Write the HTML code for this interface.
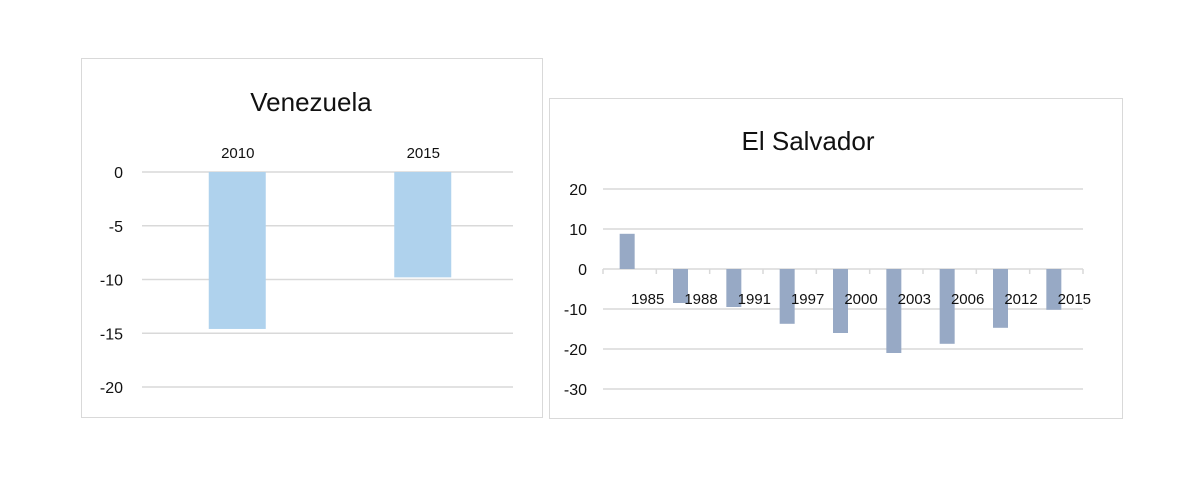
<!DOCTYPE html>
<html><head><meta charset="utf-8"><style>
body{margin:0;background:#fff;width:1200px;height:488px;overflow:hidden;font-family:"Liberation Sans",sans-serif}
svg text{font-family:"Liberation Sans",sans-serif;fill:#111}
</style></head><body>
<svg width="1200" height="488" viewBox="0 0 1200 488">
<rect x="81.5" y="58.5" width="461" height="359" fill="#fff" stroke="#d9d9d9"/>
<text x="311" y="111" font-size="26" text-anchor="middle">Venezuela</text>
<g id="v"></g>
<rect x="549.5" y="98.5" width="573" height="320" fill="#fff" stroke="#d9d9d9"/>
<text x="808" y="150" font-size="26" text-anchor="middle">El Salvador</text>
<g id="s"></g>
</svg>
<script>
const vCats=["2010","2015"];
const vVals=[-14.6,-9.8];
const vTicks=[0,-5,-10,-15,-20];
const sCats=["1985","1988","1991","1997","2000","2003","2006","2012","2015"];
const sVals=[8.8,-8.5,-9.5,-13.7,-16,-21,-18.7,-14.7,-10.2];
const sTicks=[20,10,0,-10,-20,-30];
const NS="http://www.w3.org/2000/svg";
function mk(p,t,a){const e=document.createElementNS(NS,t);for(const k in a)e.setAttribute(k,a[k]);p.appendChild(e);return e;}
// Venezuela
(function(){
const g=document.getElementById('v');
const y=v=>172+(0-v)*(215/20);
const x0=142,x1=513,bw=(x1-x0)/vCats.length;
vTicks.forEach(t=>{
const l=mk(g,'line',{x1:x0,x2:x1,y1:y(t),y2:y(t),stroke:'#d9d9d9','stroke-width':1.5});


const tx=mk(g,'text',{x:123,y:y(t)+6,'font-size':16,'text-anchor':'end'});tx.textContent=t;


});
vCats.forEach((c,i)=>{
const cx=x0+bw*(i+0.5)+3;
const r=mk(g,'rect',{x:cx-29,y:Math.min(y(0),y(vVals[i])),width:57,height:Math.abs(y(vVals[i])-y(0)),fill:'#afd2ed'});


const tx=mk(g,'text',{x:cx,y:158,'font-size':15,'text-anchor':'middle'});tx.textContent=c;


});
})();
// El Salvador
(function(){
const g=document.getElementById('s');
const y=v=>269-v*4;
const x0=603,x1=1083,bw=(x1-x0)/sCats.length;
sTicks.forEach(t=>{
const l=mk(g,'line',{x1:x0,x2:x1,y1:y(t),y2:y(t),stroke:'#d9d9d9','stroke-width':1.5});


const tx=mk(g,'text',{x:587,y:y(t)+6,'font-size':16,'text-anchor':'end'});tx.textContent=t;


});
for(let i=0;i<=sCats.length;i++){
const tk=mk(g,'line',{x1:x0+bw*i,x2:x0+bw*i,y1:269,y2:274,stroke:'#d9d9d9','stroke-width':1.5});


}
sCats.forEach((c,i)=>{
const cx=x0+bw*(i+0.5);
const r=mk(g,'rect',{x:cx-10,y:Math.min(y(0),y(sVals[i])),width:15,height:Math.abs(y(sVals[i])-y(0)),fill:'#97a9c5'});


const tx=mk(g,'text',{x:cx+18,y:304,'font-size':15,'text-anchor':'middle'});tx.textContent=c;


});
})();
</script>
</body></html>
